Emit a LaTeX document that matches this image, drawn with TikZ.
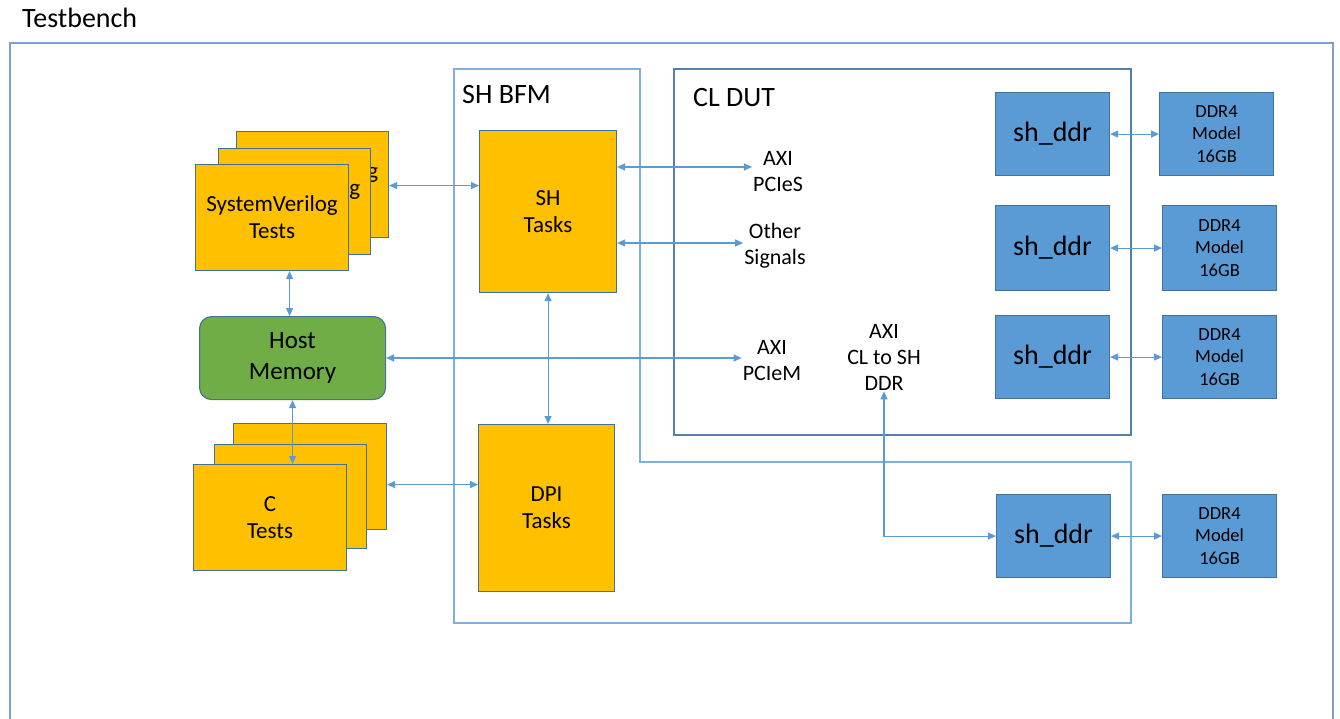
\documentclass[tikz,border=0pt]{standalone}
\usepackage{fontspec}
\setmainfont{Carlito}
\usetikzlibrary{arrows.meta,calc}

\definecolor{gold}{HTML}{FFC000}
\definecolor{shapeedge}{HTML}{41719C}
\definecolor{ddrblue}{HTML}{5B9BD5}
\definecolor{memgreen}{HTML}{70AD47}
\definecolor{wire}{HTML}{5B9BD5}
\definecolor{tbframe}{HTML}{7F9FCC}
\definecolor{bfmframe}{HTML}{7DB0E0}
\definecolor{dutframe}{HTML}{5580AE}

\tikzset{
  fs/.style n args={2}{font=\fontsize{#1}{#2}\selectfont},
  blk/.style={draw=shapeedge, line width=1.1pt, anchor=north west,
              inner sep=0pt, align=center, text=black},
  testbox/.style={blk, fill=gold, fs={23}{27}},
  ddrbox/.style={blk, fill=ddrblue},
  lbl/.style={align=center, inner sep=1pt, fs={22}{26}},
  title/.style={anchor=west, inner sep=0pt, fs={28}{32}},
  conn/.style={draw=wire, line width=1.1pt,
               {Triangle[length=8pt,width=7pt]}-{Triangle[length=8pt,width=7pt]}},
}

\begin{document}
\begin{tikzpicture}[x=1pt, y=-1pt]
\clip (0,0) rectangle (1340,718);
\fill[white] (0,0) rectangle (1340,718);

% outer frames
\node[title] (tb) at (22,18) {Testbench};
\draw[tbframe, line width=1.2pt] (10,43) rectangle (1333,740);

\draw[bfmframe, line width=1.2pt]
  (454,69) -- (640,69) -- (640,462) -- (1131,462) -- (1131,623) -- (454,623) -- cycle;
\node[title] (bfm) at (462,95) {SH BFM};

\draw[dutframe, line width=1.2pt] (674,69) rectangle (1131,435);
\node[title] (dut) at (693,98) {CL DUT};

% SystemVerilog test stack
\node[testbox, minimum width=152pt, minimum height=106pt] (svback) at (236,131) {SystemVerilog\\Tests};
\node[testbox, minimum width=152pt, minimum height=106pt] (svmid) at (218,148) {SystemVerilog\\Tests};
\node[testbox, minimum width=153pt, minimum height=106pt] (svfront) at (195,164) {SystemVerilog\\Tests};

% host memory
\node[blk, fill=memgreen, rounded corners=12pt, minimum width=186pt, minimum height=83pt,
      fs={25}{31}] (hostmem) at (199,316) {Host\\Memory};

% C test stack
\node[testbox, minimum width=153pt, minimum height=106pt] (cback) at (233,423) {C\\Tests};
\node[testbox, minimum width=152pt, minimum height=104pt] (cmid) at (214,444) {C\\Tests};
\node[testbox, minimum width=153pt, minimum height=106pt] (cfront) at (193,464) {C\\Tests};

% BFM tasks
\node[testbox, minimum width=137pt, minimum height=162pt] (shtasks) at (479,130) {SH\\Tasks};
\node[testbox, minimum width=136pt, minimum height=167pt] (dpi) at (478,424) {DPI\\Tasks};

% interface labels
\node[lbl] (pcies) at (778,172) {AXI\\PCIeS};
\node[lbl] (other) at (775,246) {Other\\Signals};
\node[lbl] (pciem) at (772,361) {AXI\\PCIeM};
\node[lbl] (axiddr) at (884,357) {AXI\\CL to SH\\DDR};

% DDR controllers and memory models
\node[ddrbox, fs={28}{32}, minimum width=114pt, minimum height=83pt] (shddr1) at (995,92) {sh\_ddr};
\node[ddrbox, fs={28}{32}, minimum width=114pt, minimum height=85pt] (shddr2) at (995,205) {sh\_ddr};
\node[ddrbox, fs={28}{32}, minimum width=114pt, minimum height=83pt] (shddr3) at (995,315) {sh\_ddr};
\node[ddrbox, fs={28}{32}, minimum width=114pt, minimum height=83pt] (shddr4) at (996,494) {sh\_ddr};

\node[ddrbox, fs={18.5}{22.5}, minimum width=114pt, minimum height=83pt] (ddr1) at (1159,92) {DDR4\\Model\\16GB};
\node[ddrbox, fs={18.5}{22.5}, minimum width=114pt, minimum height=85pt] (ddr2) at (1162,205) {DDR4\\Model\\16GB};
\node[ddrbox, fs={18.5}{22.5}, minimum width=114pt, minimum height=83pt] (ddr3) at (1162,315) {DDR4\\Model\\16GB};
\node[ddrbox, fs={18.5}{22.5}, minimum width=114pt, minimum height=83pt] (ddr4) at (1162,494) {DDR4\\Model\\16GB};

% connector end points beside the interface labels
\coordinate (pciesin) at ([yshift=5pt]pcies.west);
\coordinate (otherin) at ([yshift=3pt]other.west);
\coordinate (pciemin) at ([yshift=3pt]pciem.west);
\coordinate (svport) at ([yshift=-1pt]svback.east);
\coordinate (cport) at ([yshift=-8pt]cback.east);
\coordinate (memtop) at ([xshift=-3pt]hostmem.north);

% connectors
\draw[conn] (svport) -- (svport -| shtasks.west);
\draw[conn] (memtop |- svfront.south) -- (memtop);
\draw[conn] (hostmem.south) -- (hostmem.south |- cfront.north);
\draw[conn] (cport) -- (cport -| dpi.west);
\draw[conn] (shtasks.south) -- (shtasks.south |- dpi.north);
\draw[conn] (shtasks.east |- pciesin) -- (pciesin);
\draw[conn] (shtasks.east |- otherin) -- (otherin);
\draw[conn] (hostmem.east |- pciemin) -- (pciemin);
\draw[conn] (axiddr.south) -- (axiddr.south |- shddr4.west) -- (shddr4.west);
\draw[conn] (shddr1.east) -- (shddr1.east -| ddr1.west);
\draw[conn] (shddr2.east) -- (shddr2.east -| ddr2.west);
\draw[conn] (shddr3.east) -- (shddr3.east -| ddr3.west);
\draw[conn] (shddr4.east) -- (shddr4.east -| ddr4.west);
\end{tikzpicture}
\end{document}
